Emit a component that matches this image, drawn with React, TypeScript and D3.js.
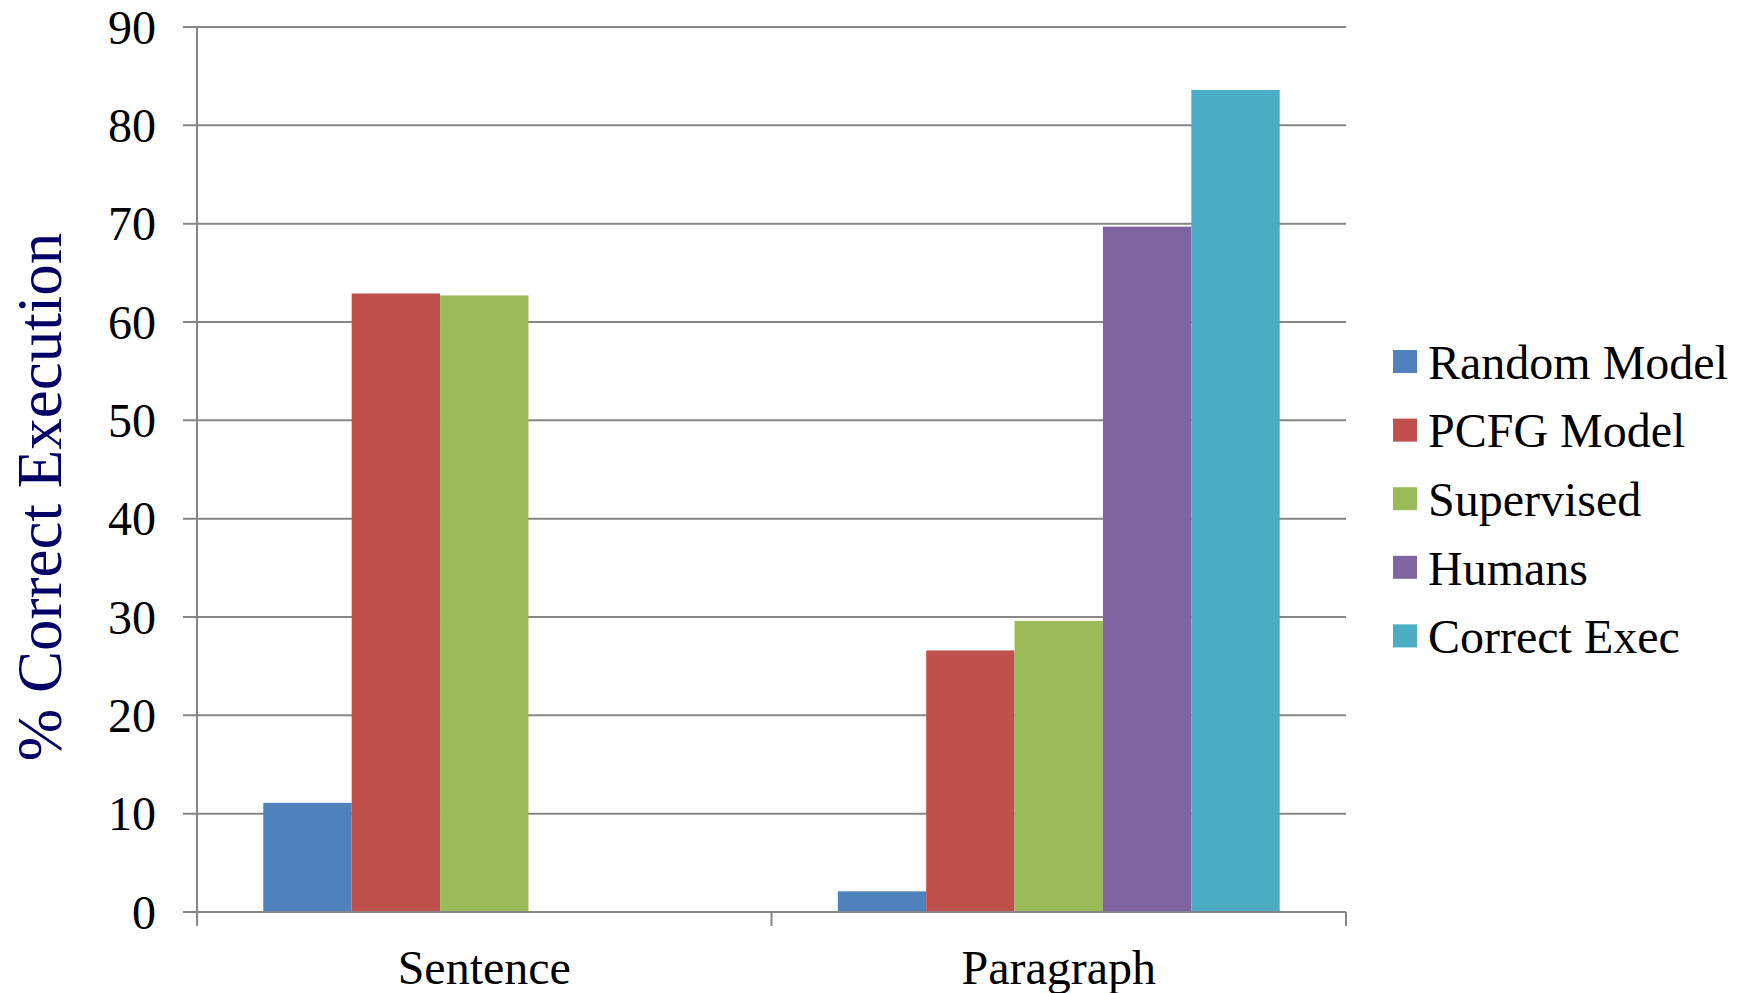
import React from "react";
import * as d3 from "d3";

const categories = ["Sentence", "Paragraph"];
const seriesNames = ["Random Model", "PCFG Model", "Supervised", "Humans", "Correct Exec"];
const seriesColors = ["#4F81BD", "#C0504D", "#9BBB59", "#8064A2", "#4BACC6"];
const randomModel = [11.1, 2.1];
const pcfgModel = [62.9, 26.6];
const supervised = [62.7, 29.6];
const humans = [null, 69.7];
const correctExec = [null, 83.6];
const yTicks = [0, 10, 20, 30, 40, 50, 60, 70, 80, 90];

const seriesValues = [randomModel, pcfgModel, supervised, humans, correctExec];

const W = 1744;
const H = 993;
const left = 197;
const right = 1346;
const top = 27;
const bottom = 912;
const FONT = "'Liberation Serif', 'Times New Roman', serif";

export default function App() {
  if (typeof document !== "undefined") document.body.style.margin = "0";
  const x0 = d3.scaleBand<string>().domain(categories).range([left, right]).paddingInner(0).paddingOuter(0);
  const x1 = d3
    .scaleBand<string>()
    .domain(seriesNames)
    .range([0, x0.bandwidth()])
    .paddingOuter(0.75)
    .paddingInner(0);
  const y = d3.scaleLinear().domain([0, 90]).range([bottom, top]);
  const grid = "#868686";

  return (
    <svg width={W} height={H} style={{ display: "block", background: "#fff" }} fontFamily={FONT}>
      {yTicks.map((t) => (
        <g key={t}>
          <line x1={left - 14} x2={right} y1={y(t)} y2={y(t)} stroke={grid} strokeWidth={2} />
          <text x={156} y={y(t)} dy="0.35em" textAnchor="end" fontSize={48} fill="#000">
            {t}
          </text>
        </g>
      ))}
      {categories.map((c, ci) =>
        seriesNames.map((s, si) => {
          const v = seriesValues[si][ci];
          if (v == null) return null;
          const bx = (x0(c) as number) + (x1(s) as number);
          return (
            <rect
              key={c + s}
              x={bx}
              y={y(v)}
              width={x1.bandwidth()}
              height={y(0) - y(v)}
              fill={seriesColors[si]}
            />
          );
        })
      )}
      <line x1={left} x2={left} y1={top} y2={bottom + 14} stroke={grid} strokeWidth={2} />
      <line x1={left} x2={right} y1={bottom} y2={bottom} stroke={grid} strokeWidth={2} />
      {[...categories.map((c) => x0(c) as number), right].map((xv, i) => (
        <line key={i} x1={xv} x2={xv} y1={bottom} y2={bottom + 14} stroke={grid} strokeWidth={2} />
      ))}
      {categories.map((c) => (
        <text
          key={c}
          x={(x0(c) as number) + x0.bandwidth() / 2}
          y={984}
          textAnchor="middle"
          fontSize={48}
          fill="#000"
        >
          {c}
        </text>
      ))}
      <text
        transform={`translate(61, 497) rotate(-90)`}
        textAnchor="middle"
        fontSize={63}
        fill="#000066"
      >
        % Correct Execution
      </text>
      {seriesNames.map((s, i) => {
        const ly = 350 + i * 68.6;
        return (
          <g key={s}>
            <rect x={1393} y={ly} width={24} height={23} fill={seriesColors[i]} />
            <text x={1428} y={ly + 12} dy="0.35em" fontSize={48} fill="#000">
              {s}
            </text>
          </g>
        );
      })}
    </svg>
  );
}
